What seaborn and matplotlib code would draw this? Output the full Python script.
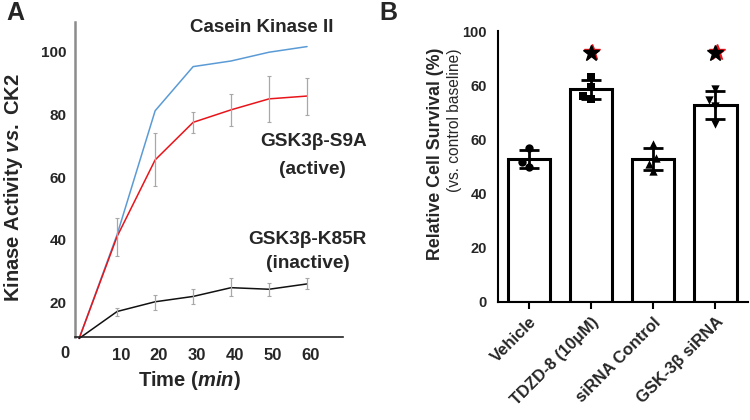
import numpy as np
import pandas as pd
import seaborn as sns
import matplotlib.pyplot as plt
from matplotlib.transforms import offset_copy

# ---- panel A data (kinase activity time course) ----
times = [-1, 9, 19, 29, 39, 49, 59]
ck2 = [8.5, 41.7, 81.2, 95.3, 97.1, 99.9, 101.7]
s9a = [8.5, 41.1, 65.5, 77.5, 81.5, 85.0, 85.9]
s9a_hi = [np.nan, 46.8, 74.2, 80.7, 86.6, 92.2, 91.6]
s9a_lo = [np.nan, 34.7, 57.1, 74.1, 76.2, 77.5, 79.9]
k85r = [8.5, 17.1, 20.2, 21.9, 24.7, 24.2, 25.9]
k85r_hi = [np.nan, 18.3, 22.4, 24.2, 27.7, 26.1, 27.8]
k85r_lo = [np.nan, 15.7, 17.7, 19.5, 21.9, 22.1, 24.2]
x_ticks = [10, 20, 30, 40, 50, 60]

# ---- panel B data (cell survival) ----
groups = ["Vehicle", "TDZD-8 (10\u03bcM)", "siRNA Control", "GSK-3\u03b2 siRNA"]
means = [52.8, 78.6, 52.8, 72.7]
sds = [3.2, 3.5, 4.2, 5.3]
pts_vehicle = [57.0, 51.8, 50.0]
pts_tdzd = [82.9, 79.2, 76.0, 74.8]
pts_sictrl = [58.2, 53.0, 50.9, 48.2]
pts_gsk = [78.8, 74.5, 72.3, 65.6]
markers = ["o", "s", "^", "v"]
star_groups = [1, 3]
star_y = 92
b_ticks = [0, 20, 40, 60, 80, 100]
b_tick_labels = ["0", "20", "40", "60", "60", "100"]  # as printed in the source figure

sns.set_theme(style="white")
plt.rcParams['font.family'] = ['Liberation Sans', 'DejaVu Sans']
plt.rcParams['mathtext.fontset'] = 'custom'
plt.rcParams['mathtext.it'] = 'Liberation Sans:italic:bold'
plt.rcParams['mathtext.rm'] = 'Liberation Sans:bold'

fig = plt.figure(figsize=(7.5, 4.2), dpi=100)

# ================= Panel A =================
ax1 = fig.add_axes([0.1, 0.198, 0.357, 0.75])
df_a = pd.DataFrame({"t": times * 3,
                     "v": ck2 + s9a + k85r,
                     "s": ["ck2"] * 7 + ["s9a"] * 7 + ["k85r"] * 7})
sns.lineplot(data=df_a, x="t", y="v", hue="s",
             palette={"ck2": "#5b9bd5", "s9a": "#e8141a", "k85r": "#111111"},
             linewidth=1.1, legend=False, ax=ax1)
for ln in ax1.lines:
    ln.set_clip_on(False)

for vals, hi, lo in [(s9a, s9a_hi, s9a_lo), (k85r, k85r_hi, k85r_lo)]:
    v = np.array(vals)
    ax1.errorbar(times, v, yerr=[v - np.array(lo), np.array(hi) - v], fmt='none',
                 ecolor='#a8a8a8', elinewidth=0.9, capsize=1.5, capthick=0.8)

ax1.set_xlim(-2.1, 68.4)
ax1.set_ylim(9, 109.6)
ax1.set_xticks(x_ticks)
ax1.set_xticklabels([str(t) for t in x_ticks], fontsize=12, fontweight='bold')
ax1.set_yticks([20, 40, 60, 80, 100])
ax1.set_yticklabels(["20", "40", "60", "80", "100"], fontsize=11, fontweight='bold')
ax1.tick_params(axis='x', direction='in', length=5, width=1, color='#444444', pad=8)
ax1.tick_params(axis='y', length=0, pad=6)
for side in ['top', 'right']:
    ax1.spines[side].set_visible(False)
ax1.spines['left'].set_color('#8c8c8c')
ax1.spines['left'].set_linewidth(1.8)
ax1.spines['bottom'].set_color('#222222')
ax1.spines['bottom'].set_linewidth(1.2)
ax1.set_xlabel("")
ax1.set_ylabel("")

fig.text(65 / 750, 1 - 353 / 420, "0", fontsize=12, fontweight='bold', ha='center', va='center')
fig.text(262 / 750, 1 - 27 / 420, "Casein Kinase II", fontsize=13.5, fontweight='bold', ha='center', va='center')
fig.text(314 / 750, 1 - 142 / 420, "GSK3\u03b2-S9A", fontsize=13.7, fontweight='bold', ha='center', va='center')
fig.text(312 / 750, 1 - 169 / 420, "(active)", fontsize=13.7, fontweight='bold', ha='center', va='center')
fig.text(307 / 750, 1 - 239 / 420, "GSK3\u03b2-K85R", fontsize=13.7, fontweight='bold', ha='center', va='center')
fig.text(308 / 750, 1 - 263 / 420, "(inactive)", fontsize=13.7, fontweight='bold', ha='center', va='center')
fig.text(14 / 750, 1 - 188 / 420, r"Kinase Activity $\mathit{vs.}$ CK2", fontsize=14.5,
         fontweight='bold', rotation=90, ha='center', va='center')
fig.text(189 / 750, 1 - 381 / 420, r"Time ($\mathit{min}$)", fontsize=14.5,
         fontweight='bold', ha='center', va='center')
fig.text(15 / 750, 1 - 13 / 420, "A", fontsize=18, fontweight='bold', ha='center', va='center')

# ================= Panel B =================
ax2 = fig.add_axes([0.664, 0.281, 0.333, 0.645])
sns.barplot(x=groups, y=means, order=groups, color='white', edgecolor='black',
            linewidth=2.2, width=0.68, errorbar=None, ax=ax2)
ax2.errorbar(range(len(groups)), means, yerr=sds, fmt='none', ecolor='black',
             elinewidth=2, capsize=7, capthick=2, zorder=4)

all_pts = [pts_vehicle, pts_tdzd, pts_sictrl, pts_gsk]
for g, pts, m in zip(groups, all_pts, markers):
    sns.swarmplot(x=[g] * len(pts), y=pts, order=groups, marker=m, color='black',
                  size=6, ax=ax2, zorder=5)

red_tr = offset_copy(ax2.transData, fig=fig, x=1.2, y=0.3, units='dots')
for gi in star_groups:
    ax2.plot(gi, star_y, marker='*', color='#e8141a', markersize=12, transform=red_tr, clip_on=False)
    ax2.plot(gi, star_y, marker='*', color='black', markersize=12, clip_on=False)

ax2.set_xlim(-0.5, 3.52)
ax2.set_ylim(0, 100)
ax2.set_yticks(b_ticks)
ax2.set_yticklabels(b_tick_labels, fontsize=10.5, fontweight='bold')
ax2.set_xticks(range(len(groups)))
ax2.set_xticklabels(groups, rotation=45, ha='right', rotation_mode='anchor',
                    fontsize=12, fontweight='bold')
ax2.tick_params(axis='y', length=0, pad=8)
ax2.tick_params(axis='x', direction='out', length=5, width=1.5, color='black', pad=4, bottom=True)
for side in ['top', 'right']:
    ax2.spines[side].set_visible(False)
for side in ['left', 'bottom']:
    ax2.spines[side].set_color('black')
    ax2.spines[side].set_linewidth(1.5)
ax2.set_xlabel("")
ax2.set_ylabel("")

fig.text(436 / 750, 1 - 48 / 420, "Relative Cell Survival (%)", fontsize=12.8,
         fontweight='bold', rotation=90, ha='center', va='top')
fig.text(455 / 750, 1 - 48 / 420, "(vs. control baseline)", fontsize=11.2,
         rotation=90, ha='center', va='top')
fig.text(388 / 750, 1 - 13 / 420, "B", fontsize=18, fontweight='bold', ha='center', va='center')

fig.savefig("out.png", dpi=100)
